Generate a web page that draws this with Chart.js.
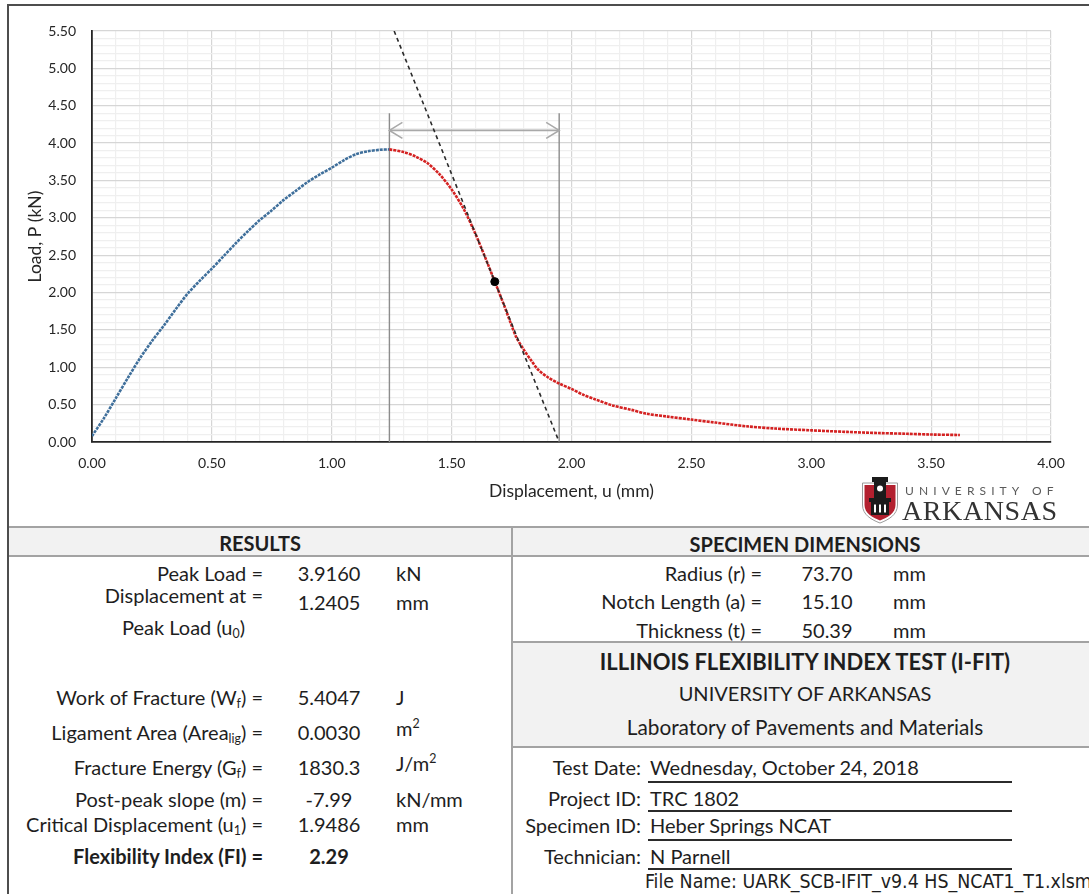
<!DOCTYPE html>
<html>
<head>
<meta charset="utf-8">
<title>I-FIT Load vs Displacement</title>
<script src="https://cdn.jsdelivr.net/npm/chart.js@4.4.1/dist/chart.umd.min.js"></script>
<style>
  html, body { margin: 0; padding: 0; background: #fff; }
  #page { position: relative; width: 1089px; height: 894px; overflow: hidden; background: #fff;
          font-family: Lato, "Open Sans", sans-serif; color: #1e1e1e; }
  #chartBox { position: absolute; left: 0; top: 0; width: 1089px; height: 524px; }
  .frame { position: absolute; background: #4d4d4d; }
  .rule { position: absolute; background: #a3a3a3; }
  .shade { position: absolute; background: #f2f2f2; }
  .uline { position: absolute; background: #2b2b2b; height: 2px; left: 648px; width: 364px; }
  .t { position: absolute; white-space: nowrap; font-size: 20px; line-height: 1; }
  .r { transform: translate(-100%, -50%); }
  .c { transform: translate(-50%, -50%); }
  .l { transform: translate(0, -50%); }
  .b { font-weight: 700; }
  .sub { font-size: 0.62em; vertical-align: -0.28em; line-height: 0; }
  .sup { font-size: 0.62em; vertical-align: 0.62em; line-height: 0; }
  .narrow { font-family: "Liberation Sans Narrow", "DejaVu Sans Condensed", "Liberation Sans", sans-serif; font-size: 19.4px; }
  .uni { font-size: 12px; letter-spacing: 5.1px; color: #5a5a5a; }
  .ark { font-family: "Liberation Serif", "DejaVu Serif", serif; font-size: 28px; letter-spacing: 0.6px; color: #333; }
</style>
</head>
<body>
<div id="page">
  <div id="chartBox"><canvas id="chart"></canvas></div>

  <!-- outer frame -->
  <div class="frame" style="left:7px;top:4px;width:1082px;height:2px"></div>
  <div class="frame" style="left:7px;top:4px;width:2px;height:890px"></div>

  <!-- university mark -->
  <svg style="position:absolute;left:861px;top:476px" width="38" height="48" viewBox="0 0 38 48">
    <path d="M1.5 7 H36.5 V29 C36.5 39 27 44 19 47 C11 44 1.5 39 1.5 29 Z" fill="#fff" stroke="#9a9a9a" stroke-width="1"/>
    <path d="M3.5 9 H34.5 V29 C34.5 37 26.5 41.5 19 44.5 C11.5 41.5 3.5 37 3.5 29 Z" fill="#b3202f"/>
    <rect x="11" y="1" width="16" height="5" fill="#1b1b1b"/>
    <rect x="13" y="6" width="12" height="16" fill="#1b1b1b"/>
    <circle cx="19" cy="12.5" r="3" fill="#fff"/>
    <rect x="8" y="22" width="22" height="4" fill="#1b1b1b"/>
    <rect x="10" y="26" width="18" height="13" fill="#1b1b1b"/>
    <rect x="13" y="28.5" width="2" height="8" fill="#fff"/>
    <rect x="18" y="28.5" width="2" height="8" fill="#fff"/>
    <rect x="23" y="28.5" width="2" height="8" fill="#fff"/>
  </svg>
  <div class="t l uni" style="left:905px;top:491px">UNIVERSITY OF</div>
  <div class="t l ark" style="left:902px;top:511px">ARKANSAS</div>

  <!-- report table -->
  <div class="shade" style="left:9px;top:528px;width:1080px;height:27px"></div>
  <div class="shade" style="left:513px;top:643px;width:576px;height:103px"></div>
  <div class="rule" style="left:9px;top:526px;width:1080px;height:2px"></div>
  <div class="rule" style="left:9px;top:555px;width:1080px;height:2px"></div>
  <div class="rule" style="left:511px;top:526px;width:2px;height:368px"></div>
  <div class="rule" style="left:513px;top:641px;width:576px;height:2px"></div>
  <div class="rule" style="left:513px;top:746px;width:576px;height:2px"></div>

  <div class="t c b" style="left:260px;top:543px">RESULTS</div>
  <div class="t c b" style="left:805px;top:544px">SPECIMEN DIMENSIONS</div>

  <div class="t r" style="left:263px;top:573px">Peak Load =</div>
  <div class="t c" style="left:329px;top:573px">3.9160</div>
  <div class="t l" style="left:396px;top:573px">kN</div>

  <div class="t r" style="left:263px;top:595px">Displacement at =</div>
  <div class="t c" style="left:329px;top:602px">1.2405</div>
  <div class="t l" style="left:396px;top:602px">mm</div>
  <div class="t r" style="left:245px;top:627px">Peak Load (u<span class="sub">0</span>)</div>

  <div class="t r" style="left:263px;top:697px">Work of Fracture (W<span class="sub">f</span>) =</div>
  <div class="t c" style="left:329px;top:697px">5.4047</div>
  <div class="t l" style="left:396px;top:697px">J</div>

  <div class="t r" style="left:263px;top:732px">Ligament Area (Area<span class="sub">lig</span>) =</div>
  <div class="t c" style="left:329px;top:732px">0.0030</div>
  <div class="t l" style="left:396px;top:728px">m<span class="sup">2</span></div>

  <div class="t r" style="left:263px;top:767px">Fracture Energy (G<span class="sub">f</span>) =</div>
  <div class="t c" style="left:329px;top:767px">1830.3</div>
  <div class="t l" style="left:396px;top:763px">J/m<span class="sup">2</span></div>

  <div class="t r" style="left:263px;top:799px">Post-peak slope (m) =</div>
  <div class="t c" style="left:329px;top:799px">-7.99</div>
  <div class="t l" style="left:396px;top:799px">kN/mm</div>

  <div class="t r" style="left:263px;top:824px">Critical Displacement (u<span class="sub">1</span>) =</div>
  <div class="t c" style="left:329px;top:824px">1.9486</div>
  <div class="t l" style="left:396px;top:824px">mm</div>

  <div class="t r b" style="left:263px;top:856px">Flexibility Index (FI) =</div>
  <div class="t c b" style="left:329px;top:856px">2.29</div>

  <div class="t r" style="left:762px;top:573px">Radius (r) =</div>
  <div class="t c" style="left:827px;top:573px">73.70</div>
  <div class="t l" style="left:893px;top:573px">mm</div>
  <div class="t r" style="left:762px;top:601px">Notch Length (a) =</div>
  <div class="t c" style="left:827px;top:601px">15.10</div>
  <div class="t l" style="left:893px;top:601px">mm</div>
  <div class="t r" style="left:762px;top:630px">Thickness (t) =</div>
  <div class="t c" style="left:827px;top:630px">50.39</div>
  <div class="t l" style="left:893px;top:630px">mm</div>

  <div class="t c b" style="left:805px;top:662px;font-size:22px">ILLINOIS FLEXIBILITY INDEX TEST (I-FIT)</div>
  <div class="t c" style="left:805px;top:693px">UNIVERSITY OF ARKANSAS</div>
  <div class="t c" style="left:805px;top:727px;font-size:20.8px">Laboratory of Pavements and Materials</div>

  <div class="t r" style="left:641px;top:767px">Test Date:</div>
  <div class="t l" style="left:650px;top:767px">Wednesday, October 24, 2018</div>
  <div class="uline" style="top:781px"></div>
  <div class="t r" style="left:641px;top:798px">Project ID:</div>
  <div class="t l" style="left:650px;top:798px">TRC 1802</div>
  <div class="uline" style="top:810px"></div>
  <div class="t r" style="left:641px;top:825px">Specimen ID:</div>
  <div class="t l" style="left:650px;top:825px">Heber Springs NCAT</div>
  <div class="uline" style="top:839px"></div>
  <div class="t r" style="left:641px;top:856px">Technician:</div>
  <div class="t l" style="left:650px;top:856px">N Parnell</div>
  <div class="uline" style="top:868px"></div>
  <div class="t l narrow" style="left:645px;top:882px">File Name: UARK_SCB-IFIT_v9.4 HS_NCAT1_T1.xlsm</div>
</div>

<script>
// Load–displacement record, pre-peak branch (mm, kN)
const preU = [0.00, 0.05, 0.10, 0.15, 0.20, 0.25, 0.30, 0.35, 0.40, 0.45, 0.50, 0.55, 0.60,
              0.65, 0.70, 0.75, 0.80, 0.85, 0.90, 0.95, 1.00, 1.05, 1.10, 1.15, 1.20, 1.2405];
const preP = [0.08, 0.32, 0.59, 0.86, 1.12, 1.35, 1.56, 1.78, 1.99, 2.16, 2.32, 2.49, 2.66,
              2.82, 2.97, 3.10, 3.24, 3.36, 3.48, 3.58, 3.67, 3.77, 3.85, 3.89, 3.91, 3.916];

// Post-peak branch (mm, kN)
const postU = [1.2405, 1.30, 1.35, 1.40, 1.45, 1.50, 1.55, 1.60, 1.65, 1.68, 1.72, 1.75, 1.77,
               1.80, 1.83, 1.86, 1.90, 1.95, 2.00, 2.05, 2.10, 2.17, 2.25, 2.31, 2.40, 2.50,
               2.60, 2.73, 2.85, 3.00, 3.15, 3.28, 3.40, 3.50, 3.62];
const postP = [3.916, 3.88, 3.82, 3.73, 3.58, 3.38, 3.12, 2.78, 2.39, 2.146, 1.82, 1.56, 1.40,
               1.24, 1.10, 0.97, 0.87, 0.78, 0.71, 0.63, 0.57, 0.49, 0.43, 0.38, 0.34, 0.30,
               0.26, 0.21, 0.18, 0.156, 0.135, 0.12, 0.11, 0.10, 0.094];

// Results used for the annotations
const peakLoad = 3.9160;       // kN
const peakDisp = 1.2405;       // u0, mm
const postPeakSlope = -7.99;   // m, kN/mm
const criticalDisp = 1.9486;   // u1, mm
const inflectionU = 1.68;      // mm, tangent point
const spanLevel = 4.17;        // kN, height of the u0–u1 dimension arrow
const guideTop = 4.40;         // kN, top of the u0 / u1 guide lines

// Axis ticks
const xMajorTicks = [0, 0.5, 1.0, 1.5, 2.0, 2.5, 3.0, 3.5, 4.0];
const yMajorTicks = [0, 0.5, 1.0, 1.5, 2.0, 2.5, 3.0, 3.5, 4.0, 4.5, 5.0, 5.5];
const minorStep = 0.1;

const xy = (us, ps) => us.map((u, i) => ({ x: u, y: ps[i] }));
const near = (a, b) => Math.abs(a - b) < 1e-6;
const isMajor = (majors, v) => majors.some(m => near(m, v));

function minorTicks(majors) {
  const lo = majors[0], hi = majors[majors.length - 1];
  const n = Math.round((hi - lo) / minorStep);
  const out = [];
  for (let i = 0; i <= n; i++) out.push({ value: +(lo + i * minorStep).toFixed(3) });
  return out;
}

const yTop = yMajorTicks[yMajorTicks.length - 1];
const tangent = [
  { x: criticalDisp + yTop / postPeakSlope, y: yTop },
  { x: criticalDisp, y: 0 }
];
const tangentPoint = [{ x: inflectionU, y: postPeakSlope * (inflectionU - criticalDisp) }];

// Open chevrons at both ends of the u0–u1 dimension line
const spanArrows = {
  id: 'spanArrows',
  afterDatasetsDraw(chart) {
    const idx = chart.data.datasets.findIndex(d => d.label === 'span');
    const pts = chart.getDatasetMeta(idx).data;
    const a = pts[0], b = pts[pts.length - 1];
    const ctx = chart.ctx;
    ctx.save();
    ctx.strokeStyle = '#a9a9a9';
    ctx.lineWidth = 1.6;
    const L = 13, H = 8;
    ctx.beginPath();
    ctx.moveTo(a.x + L, a.y - H); ctx.lineTo(a.x, a.y); ctx.lineTo(a.x + L, a.y + H);
    ctx.moveTo(b.x - L, b.y - H); ctx.lineTo(b.x, b.y); ctx.lineTo(b.x - L, b.y + H);
    ctx.stroke();
    ctx.restore();
  }
};

Chart.defaults.font.family = 'Lato, "Open Sans", sans-serif';
Chart.defaults.color = '#262626';

const axisInk = '#262626';
const gridColor = majors => ctx => (ctx.tick && isMajor(majors, ctx.tick.value)) ? '#d6d6d6' : '#efefef';

new Chart(document.getElementById('chart'), {
  type: 'line',
  data: {
    datasets: [
      { label: 'tangent point', data: tangentPoint, showLine: false, pointRadius: 4,
        pointBackgroundColor: '#000', pointBorderColor: '#000', order: 0 },
      { label: 'post-peak slope', data: tangent, borderColor: '#2a2a2a', borderWidth: 1.6,
        borderDash: [4, 3.5], pointRadius: 0, order: 1 },
      { label: 'post-peak', data: xy(postU, postP), borderColor: '#d42222', borderWidth: 2.6,
        borderDash: [3, 1], pointRadius: 0, tension: 0.3, order: 2 },
      { label: 'pre-peak', data: xy(preU, preP), borderColor: '#3f6f9b', borderWidth: 2.6,
        borderDash: [3, 1], pointRadius: 0, tension: 0.3, order: 3 },
      { label: 'u0 guide', data: [{ x: peakDisp, y: 0 }, { x: peakDisp, y: guideTop }],
        borderColor: '#8c8c8c', borderWidth: 1.4, pointRadius: 0, order: 4 },
      { label: 'u1 guide', data: [{ x: criticalDisp, y: 0 }, { x: criticalDisp, y: guideTop }],
        borderColor: '#8c8c8c', borderWidth: 1.4, pointRadius: 0, order: 5 },
      { label: 'span', data: [{ x: peakDisp, y: spanLevel }, { x: criticalDisp, y: spanLevel }],
        borderColor: '#a9a9a9', borderWidth: 1.8, pointRadius: 0, order: 6 }
    ]
  },
  options: {
    responsive: true,
    maintainAspectRatio: false,
    animation: false,
    layout: { padding: { left: 21, top: 31, right: 38, bottom: 18 } },
    plugins: { legend: { display: false }, tooltip: { enabled: false } },
    elements: { line: { fill: false } },
    scales: {
      x: {
        type: 'linear',
        min: xMajorTicks[0],
        max: xMajorTicks[xMajorTicks.length - 1],
        afterBuildTicks: s => { s.ticks = minorTicks(xMajorTicks); },
        afterFit: s => { s.height = 64; },
        ticks: {
          autoSkip: false, maxRotation: 0, minRotation: 0, padding: 13,
          color: axisInk, font: { size: 14 },
          callback: v => isMajor(xMajorTicks, v) ? v.toFixed(2) : ''
        },
        grid: { drawTicks: false, color: gridColor(xMajorTicks), lineWidth: 1.2 },
        border: { color: axisInk, width: 1.8 },
        title: { display: true, text: 'Displacement, u (mm)', color: axisInk,
                 font: { size: 17.5 }, padding: { top: 4, bottom: 4 } }
      },
      y: {
        type: 'linear',
        min: yMajorTicks[0],
        max: yTop,
        afterBuildTicks: s => { s.ticks = minorTicks(yMajorTicks); },
        afterFit: s => { s.width = 71; },
        ticks: {
          autoSkip: false, padding: 16, color: axisInk, font: { size: 14 },
          callback: v => isMajor(yMajorTicks, v) ? v.toFixed(2) : ''
        },
        grid: { drawTicks: false, color: gridColor(yMajorTicks), lineWidth: 1.2 },
        border: { color: axisInk, width: 1.8 },
        title: { display: true, text: 'Load, P (kN)', color: axisInk,
                 font: { size: 17.5 }, padding: { top: 4, bottom: 4 } }
      }
    }
  },
  plugins: [spanArrows]
});
</script>
</body>
</html>
